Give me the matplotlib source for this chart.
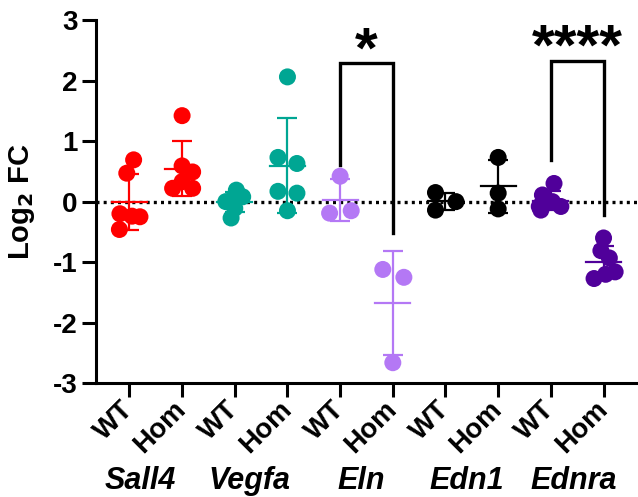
import matplotlib
matplotlib.use('Agg')
import matplotlib.pyplot as plt
import matplotlib.transforms as mtransforms
import numpy as np

plt.rcParams['font.family'] = ['Liberation Sans', 'DejaVu Sans']
plt.rcParams['font.weight'] = 'bold'
plt.rcParams['axes.unicode_minus'] = False

genes = ['Sall4', 'Vegfa', 'Eln', 'Edn1', 'Ednra']
genotypes = ['WT', 'Hom']
gene_colors = ['#FF0000', '#00A693', '#B478F5', '#000000', '#50009A']

# log2 fold change per animal
sall4_wt = [0.69, 0.47, -0.20, -0.24, -0.25, -0.46]
sall4_hom = [1.42, 0.59, 0.49, 0.33, 0.22, 0.22]
vegfa_wt = [0.19, 0.08, 0.05, 0.00, -0.11, -0.27]
vegfa_hom = [2.06, 0.73, 0.63, 0.17, 0.14, -0.15]
eln_wt = [0.42, -0.19, -0.15]
eln_hom = [-1.12, -1.25, -2.66]
edn1_wt = [0.15, -0.14, 0.00]
edn1_hom = [0.73, 0.14, -0.12]
ednra_wt = [0.30, 0.11, -0.08, 0.00, -0.08, -0.14]
ednra_hom = [-0.60, -0.81, -0.93, -1.27, -1.20, -1.16]

groups = [sall4_wt, sall4_hom, vegfa_wt, vegfa_hom, eln_wt, eln_hom,
          edn1_wt, edn1_hom, ednra_wt, ednra_hom]

# horizontal scatter of the dots (category units)
jitter = [
    [0.08, -0.05, -0.18, 0.05, 0.20, -0.19],
    [0.0, 0.0, 0.20, 0.0, -0.18, 0.20],
    [0.03, 0.15, -0.03, -0.17, 0.0, -0.07],
    [0.0, -0.18, 0.18, -0.18, 0.18, 0.0],
    [0.0, -0.20, 0.21],
    [-0.19, 0.21, 0.0],
    [-0.19, -0.19, 0.20],
    [0.0, 0.0, 0.0],
    [0.06, -0.16, -0.22, 0.03, 0.19, -0.19],
    [0.0, -0.05, 0.11, -0.18, 0.04, 0.22],
]

# where the gene names sit along x (category units)
gene_label_x = [0.20, 2.28, 4.40, 6.40, 8.44]

# significance brackets: (left group, right group, left foot, top, right foot, label)
brackets = [
    (4, 5, 0.61, 2.29, -0.52, '*'),
    (8, 9, 0.69, 2.33, -0.22, '****'),
]

fig = plt.figure(figsize=(6.38, 4.97), dpi=100)
ax = fig.add_axes([0.150, 0.2288, 0.848, 0.731])

ax.axhline(0, color='black', lw=2.4, linestyle=(0, (0.9, 1.25)), zorder=1)

for i, vals in enumerate(groups):
    color = gene_colors[i // 2]
    vals = np.array(vals)
    xs = i + np.array(jitter[i])
    ax.scatter(xs, vals, s=150, color=color, edgecolors='none', zorder=2)
    m = vals.mean()
    sd = vals.std(ddof=1)
    ax.errorbar(i, m, yerr=sd, color=color, lw=1.6, capsize=7,
                capthick=1.6, zorder=3)
    ax.plot([i - 0.33, i + 0.33], [m, m], color=color, lw=1.6, zorder=3)

for left, right, yl, top, yr, label in brackets:
    ax.plot([left, left, right, right], [yl, top, top, yr], color='black',
            lw=2.4, solid_joinstyle='miter', zorder=4)
    ax.text((left + right) / 2, top - 0.07, label, ha='center', va='baseline',
            fontsize=42, fontweight='bold')

ax.set_xlim(-0.64, 9.63)
ax.set_ylim(-3, 3)
ax.set_yticks(np.arange(-3, 4))
ax.set_yticklabels([str(v) for v in range(-3, 4)], fontsize=20, fontweight='bold')
ax.set_xticks(np.arange(len(groups)))
ax.set_xticklabels(genotypes * len(genes), rotation=45, ha='right', va='center',
                   rotation_mode='anchor', fontsize=20, fontweight='bold')
ax.tick_params(axis='both', length=10, width=2.2, pad=3)
ax.tick_params(axis='x', pad=6)
ax.set_ylabel('Log$_\\mathbf{2}$ FC', fontsize=21, fontweight='bold')
ax.yaxis.set_label_coords(-0.108, 0.5)

for side in ['top', 'right']:
    ax.spines[side].set_visible(False)
for side in ['left', 'bottom']:
    ax.spines[side].set_linewidth(2.2)

trans = mtransforms.blended_transform_factory(ax.transData, ax.transAxes)
for gx, gene in zip(gene_label_x, genes):
    ax.text(gx, -0.27, gene, transform=trans, ha='center', va='center',
            fontsize=22, fontweight='bold', style='italic')

fig.savefig('out.png', dpi=100)
